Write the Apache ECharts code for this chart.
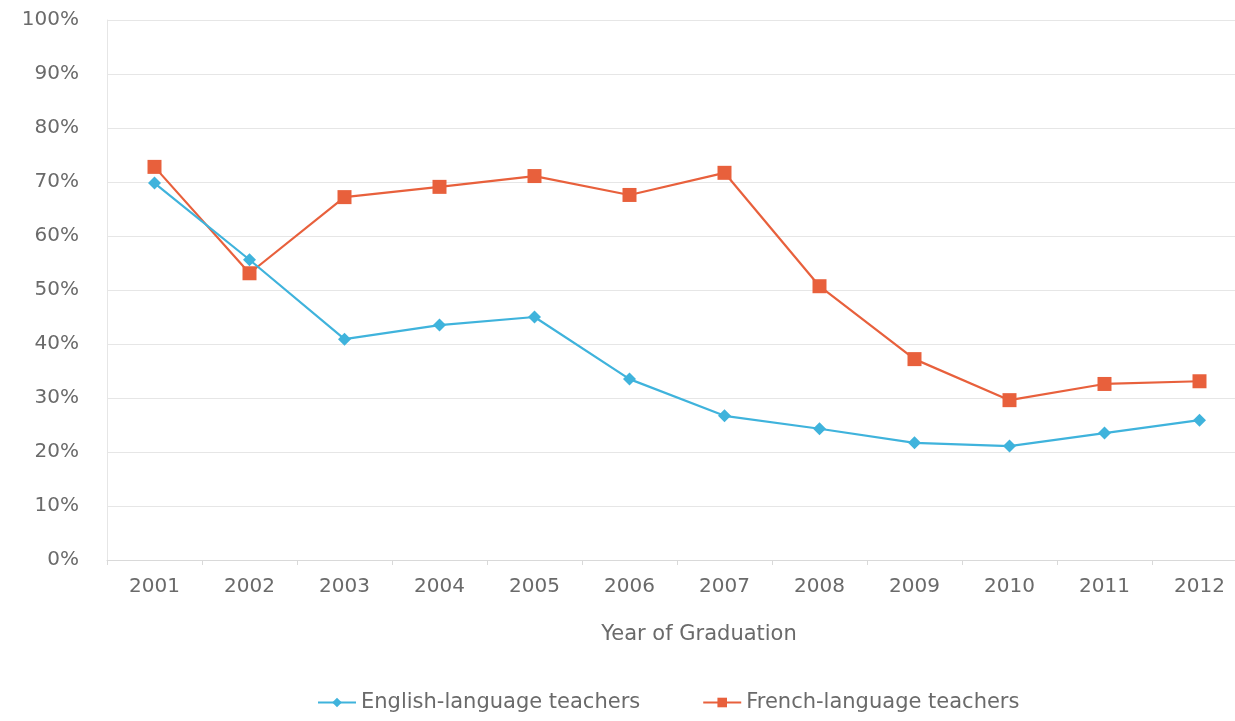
<!DOCTYPE html>
<html>
<head>
<meta charset="utf-8">
<script src="https://cdn.jsdelivr.net/npm/echarts@6/dist/echarts.min.js"></script>
<style>
    html, body { margin: 0; padding: 0; background: #fff; overflow: hidden; }
    #chart { width: 1247px; height: 721px; }
</style>
</head>
<body>
<div id="chart"></div>
<script>
    // 数据
    var years = ['2001', '2002', '2003', '2004', '2005', '2006', '2007', '2008', '2009', '2010', '2011', '2012'];
    var english = [69.8, 55.6, 40.9, 43.5, 45.0, 33.5, 26.7, 24.3, 21.7, 21.1, 23.5, 25.9];
    var french = [72.8, 53.1, 67.2, 69.1, 71.1, 67.6, 71.7, 50.7, 37.2, 29.6, 32.6, 33.1];

    var chartDom = document.getElementById('chart');
    var myChart = echarts.init(chartDom);
    var font = 'DejaVu Sans, Verdana, sans-serif';
    var textColor = '#6a6a6a';

    // 图表比窗口略宽，右侧被裁掉一点
    var option = {
        backgroundColor: '#fff',
        animation: false,
        grid: {
            left: 107,
            top: 20,
            width: 1140,
            height: 540
        },
        legend: {
            bottom: 3,
            left: 312,
            itemWidth: 38,
            itemHeight: 12,
            itemGap: 62,
            textStyle: { fontFamily: font, fontSize: 21, color: textColor },
            data: ['English-language teachers', 'French-language teachers']
        },
        xAxis: {
            type: 'category',
            data: years,
            boundaryGap: true,
            name: 'Year of Graduation',
            nameLocation: 'middle',
            nameGap: 64,
            nameTextStyle: { fontFamily: font, fontSize: 21, color: textColor, padding: [0, 0, 0, 44] },
            axisLine: { lineStyle: { color: '#d9d9d9', width: 1 } },
            axisTick: { show: true, length: 5, lineStyle: { color: '#d9d9d9' } },
            axisLabel: { fontFamily: font, fontSize: 20, color: textColor, margin: 17 },
            splitLine: { show: false }
        },
        yAxis: {
            type: 'value',
            min: 0,
            max: 100,
            interval: 10,
            axisLine: { show: true, lineStyle: { color: '#e6e6e6' } },
            axisTick: { show: false },
            axisLabel: { fontFamily: font, fontSize: 20, color: textColor, margin: 28, formatter: '{value}%' },
            splitLine: { lineStyle: { color: '#e6e6e6', width: 1 } }
        },
        series: [
            {
                name: 'English-language teachers',
                type: 'line',
                data: english,
                symbol: 'diamond',
                symbolSize: 13,
                itemStyle: { color: '#3fb3dc' },
                lineStyle: { color: '#3fb3dc', width: 2.2 },
                z: 3
            },
            {
                name: 'French-language teachers',
                type: 'line',
                data: french,
                symbol: 'rect',
                symbolSize: 14,
                itemStyle: { color: '#e8603c' },
                lineStyle: { color: '#e8603c', width: 2.2 },
                z: 2
            }
        ]
    };

    myChart.setOption(option);
</script>
</body>
</html>
